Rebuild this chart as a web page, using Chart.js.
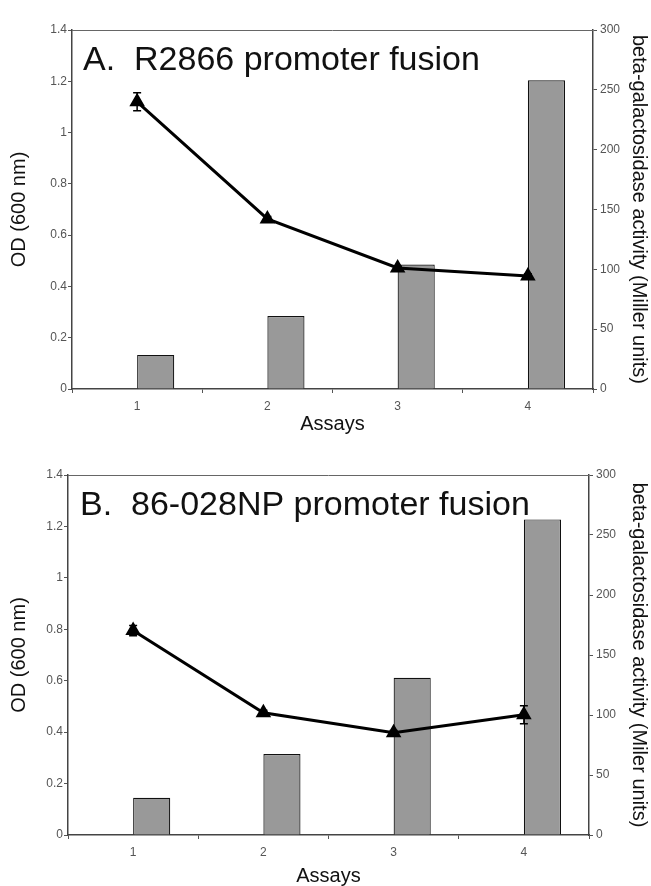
<!DOCTYPE html>
<html lang="en">
<head>
<meta charset="UTF-8">
<title>Promoter fusion assays</title>
<script src="https://cdn.jsdelivr.net/npm/chart.js@4.4.1/dist/chart.umd.min.js"></script>
<style>
  body { margin: 0; background: #fff; }
  #wrap { position: relative; width: 651px; height: 886px; }
  canvas { position: absolute; left: 0; }
</style>
</head>
<body>
<div id="wrap">
  <canvas id="chartA" width="651" height="434" style="top:0"></canvas>
  <canvas id="chartB" width="651" height="446" style="top:440px"></canvas>
</div>
<script>
// shared
const assays = ["1", "2", "3", "4"];

// panel A - R2866
const odA = [1.12, 0.663, 0.472, 0.441];
const odErrA = [0.035, 0.01, 0.008, 0.008];
const betaGalA = [28.5, 61, 104, 258];

// panel B - 86-028NP
const odB = [0.795, 0.475, 0.398, 0.468];
const odErrB = [0.02, 0.01, 0.008, 0.035];
const betaGalB = [31, 67.5, 131, 263];

const FONT = "'Liberation Sans', Arial, sans-serif";
const tickGrey = "#555";

const errorBars = {
  id: "errorBars",
  afterDatasetsDraw(chart) {
    const ctx = chart.ctx;
    chart.data.datasets.forEach((ds, di) => {
      if (!ds.errors) return;
      const meta = chart.getDatasetMeta(di);
      const ys = chart.scales[ds.yAxisID];
      ctx.save();
      ctx.strokeStyle = "#000";
      ctx.lineWidth = 1.5;
      meta.data.forEach((pt, i) => {
        const e = ds.errors[i];
        if (!e) return;
        const top = ys.getPixelForValue(ds.data[i] + e);
        const bot = ys.getPixelForValue(ds.data[i] - e);
        ctx.beginPath();
        ctx.moveTo(pt.x, top); ctx.lineTo(pt.x, bot);
        ctx.moveTo(pt.x - 4, top); ctx.lineTo(pt.x + 4, top);
        ctx.moveTo(pt.x - 4, bot); ctx.lineTo(pt.x + 4, bot);
        ctx.stroke();
      });
      ctx.restore();
    });
  }
};

const frameAndLabel = {
  id: "frameAndLabel",
  beforeDatasetsDraw(chart) {
    const a = chart.chartArea, ctx = chart.ctx;
    ctx.save();
    ctx.strokeStyle = "#666";
    ctx.lineWidth = 1;
    ctx.beginPath();
    ctx.moveTo(a.left, a.top + 0.5);
    ctx.lineTo(a.right, a.top + 0.5);
    ctx.stroke();
    ctx.restore();
  },
  afterDraw(chart, args, opts) {
    const a = chart.chartArea, ctx = chart.ctx;
    ctx.save();
    ctx.fillStyle = "#111";
    ctx.font = "34px " + FONT;
    ctx.textBaseline = "alphabetic";
    ctx.fillText(opts.text, a.left + opts.dx, a.top + 40);
    ctx.restore();
  }
};

function makeChart(id, od, odErr, betaGal, panel) {
  return new Chart(document.getElementById(id), {
    type: "bar",
    data: {
      labels: assays,
      datasets: [
        {
          type: "line",
          data: od,
          errors: odErr,
          yAxisID: "yOD",
          borderColor: "#000",
          backgroundColor: "#000",
          borderWidth: 3,
          pointStyle: "triangle",
          pointRadius: 6,
          pointHoverRadius: 6,
          tension: 0,
          order: 0
        },
        {
          // empty slot so the bars sit just right of each category tick
          data: assays.map(() => null),
          yAxisID: "yBeta",
          order: 1
        },
        {
          data: betaGal,
          yAxisID: "yBeta",
          backgroundColor: "#999999",
          borderColor: "#111",
          borderWidth: 1.2,
          order: 2
        }
      ]
    },
    options: {
      responsive: false,
      animation: false,
      events: [],
      categoryPercentage: 0.57,
      barPercentage: 1,
      layout: { padding: { top: panel.top, left: 0, right: 0, bottom: 0 } },
      plugins: {
        legend: { display: false },
        tooltip: { enabled: false },
        frameAndLabel: { text: panel.title, dx: panel.dx }
      },
      scales: {
        x: {
          offset: true,
          grid: { offset: true, drawOnChartArea: false, tickLength: 4, color: "#555" },
          border: { color: "#444", width: 1.5 },
          ticks: { color: tickGrey, font: { family: FONT, size: 12 }, padding: 6 },
          title: { display: true, text: "Assays", color: "#111",
                   font: { family: FONT, size: 20, lineHeight: 1 }, padding: 0 },
          afterFit: s => { s.height = panel.xh; }
        },
        yOD: {
          position: "left",
          min: 0, max: 1.4,
          ticks: { stepSize: 0.2, color: tickGrey, font: { family: FONT, size: 12 }, padding: 1,
                   callback: v => String(Math.round(v * 10) / 10) },
          grid: { drawOnChartArea: false, tickLength: 4, color: "#555" },
          border: { color: "#444", width: 1.5 },
          title: { display: true, text: "OD (600 nm)", color: "#111",
                   font: { family: FONT, size: 20, lineHeight: 1 }, padding: { top: 9, bottom: 0 } },
          afterFit: s => { s.width = panel.lw; }
        },
        yBeta: {
          position: "right",
          min: 0, max: 300,
          ticks: { stepSize: 50, color: tickGrey, font: { family: FONT, size: 12 }, padding: 3 },
          grid: { drawOnChartArea: false, tickLength: 4, color: "#555" },
          border: { color: "#444", width: 1.5 },
          title: { display: true, text: panel.rightTitle, color: "#111",
                   font: { family: FONT, size: 20, lineHeight: 1 }, padding: { top: 2, bottom: 0 } },
          afterFit: s => { s.width = panel.rw; }
        }
      }
    },
    plugins: [errorBars, frameAndLabel]
  });
}

makeChart("chartA", odA, odErrA, betaGalA, {
  title: "A.  R2866 promoter fusion", dx: 11,
  rightTitle: "beta-galactosidase activity (Miller units)",
  top: 30, xh: 45, lw: 72, rw: 58
});
makeChart("chartB", odB, odErrB, betaGalB, {
  title: "B.  86-028NP promoter fusion", dx: 12,
  rightTitle: "beta-galactosidase activity (Miler units)",
  top: 35, xh: 51, lw: 68, rw: 62
});
</script>
</body>
</html>
